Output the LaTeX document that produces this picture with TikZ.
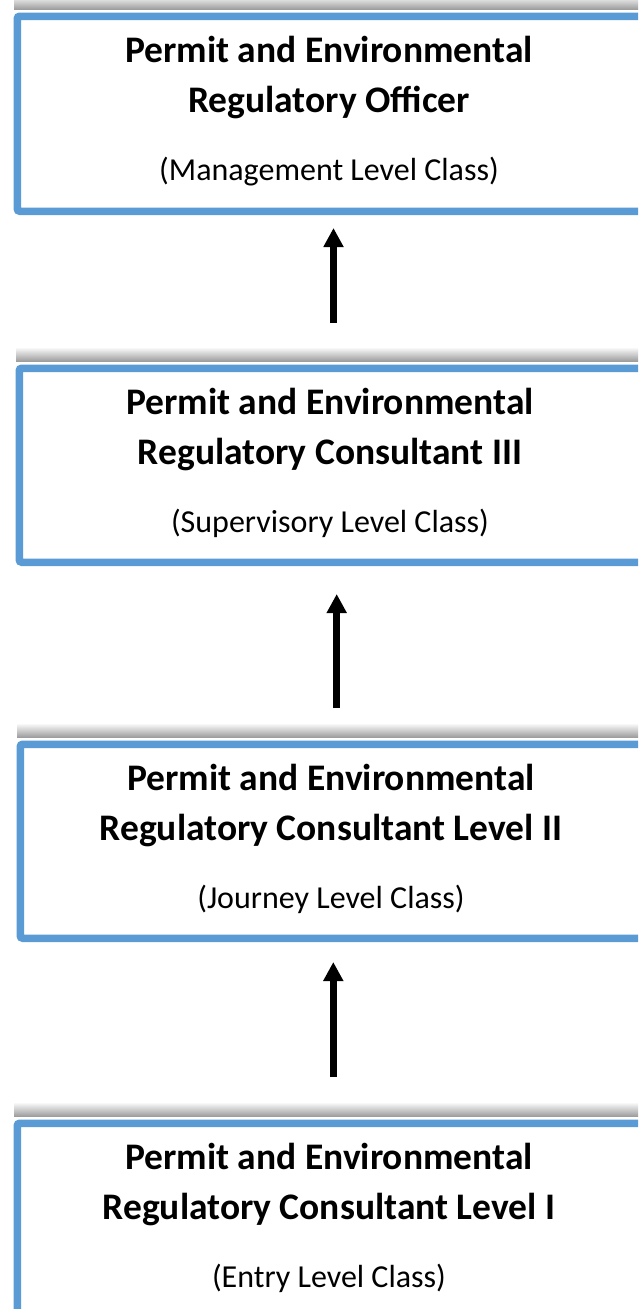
\documentclass[tikz,border=0pt]{standalone}
\usepackage{fontspec}
\setmainfont{Carlito}
\usetikzlibrary{arrows.meta}
\definecolor{boxblue}{HTML}{5B9BD5}
\tikzset{
  boxnode/.style={draw=boxblue, line width=7.5pt, rounded corners=2.5pt, fill=white, anchor=north west, inner sep=0pt},
  titleline/.style={anchor=base, inner sep=0pt, font=\bfseries\fontsize{37.5}{44}\selectfont},
  subline/.style={anchor=base, inner sep=0pt, font=\fontsize{32}{38}\selectfont},
  uparrow/.style={line width=6.5pt, -{Triangle[width=19pt,length=19pt]}},
  boxshadow/.style={top color=white, bottom color=black!38}
}
\begin{document}
\begin{tikzpicture}[x=1pt,y=-1pt]
\useasboundingbox (0,0) rectangle (638,1309);
\clip (0,0) rectangle (638,1309);
% shadows
\shade[boxshadow] (14,-5) rectangle (700,9);
\shade[boxshadow] (16,347) rectangle (700,361);
\shade[boxshadow] (17,723) rectangle (700,737);
\shade[boxshadow] (14,1102) rectangle (700,1116);
% boxes
\node[boxnode, minimum width=656.5pt, minimum height=195pt] (box1) at (13.5,12.5) {};
\node[boxnode, minimum width=654.5pt, minimum height=194pt] (box2) at (15.5,364.5) {};
\node[boxnode, minimum width=653.5pt, minimum height=194pt] (box3) at (16.5,740.5) {};
\node[boxnode, minimum width=656.5pt, minimum height=220pt] (box4) at (13.5,1119.5) {};
% texts
\node[titleline] (b1l1) at (329,62) {Permit and Environmental};
\node[titleline] (b1l2) at (329,112) {Regulatory Officer};
\node[subline] (b1l3) at (329,180) {(Management Level Class)};
\node[titleline] (b2l1) at (330,414) {Permit and Environmental};
\node[titleline] (b2l2) at (330,464) {Regulatory Consultant III};
\node[subline] (b2l3) at (330,532) {(Supervisory Level Class)};
\node[titleline] (b3l1) at (331,790) {Permit and Environmental};
\node[titleline] (b3l2) at (331,840) {Regulatory Consultant Level II};
\node[subline] (b3l3) at (331,908) {(Journey Level Class)};
\node[titleline] (b4l1) at (329,1169) {Permit and Environmental};
\node[titleline] (b4l2) at (329,1219) {Regulatory Consultant Level I};
\node[subline] (b4l3) at (329,1287) {(Entry Level Class)};
% arrows
\coordinate (a1s) at (333.5,323);
\coordinate (a1e) at (333.5,228);
\coordinate (a2s) at (336.7,708);
\coordinate (a2e) at (336.7,594);
\coordinate (a3s) at (333.3,1077);
\coordinate (a3e) at (333.3,962);
\draw[uparrow] (a1s) -- (a1e);
\draw[uparrow] (a2s) -- (a2e);
\draw[uparrow] (a3s) -- (a3e);
\end{tikzpicture}
\end{document}
